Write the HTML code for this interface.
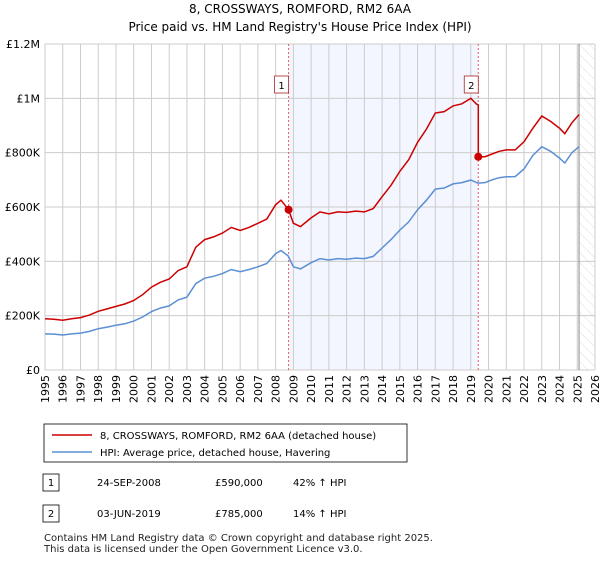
<!DOCTYPE html>
<html><head><meta charset="utf-8"><style>
body{margin:0;background:#fff;font-family:"Liberation Sans","DejaVu Sans",sans-serif;}
svg text{font-family:"DejaVu Sans","Liberation Sans",sans-serif;}
</style></head><body>
<svg id="c" width="600" height="560" xmlns="http://www.w3.org/2000/svg">
<defs><pattern id="hatch" width="7" height="7" patternUnits="userSpaceOnUse" patternTransform="rotate(-45)"><line x1="0" y1="0" x2="0" y2="7" stroke="#d4d4d4" stroke-width="0.8"/></pattern></defs>
<text x="300" y="13" font-size="12" text-anchor="middle">8, CROSSWAYS, ROMFORD, RM2 6AA</text>
<text x="300" y="31" font-size="12" text-anchor="middle">Price paid vs. HM Land Registry's House Price Index (HPI)</text>
<g id="plot"></g>
<rect x="44" y="424" width="363" height="38" fill="#fff" stroke="#000" stroke-width="0.8"/>
<line x1="52" y1="435" x2="92" y2="435" stroke="#cc0000" stroke-width="1.5"/>
<text x="100" y="439" font-size="10">8, CROSSWAYS, ROMFORD, RM2 6AA (detached house)</text>
<line x1="52" y1="452" x2="92" y2="452" stroke="#5b8fd4" stroke-width="1.5"/>
<text x="100" y="456" font-size="10">HPI: Average price, detached house, Havering</text>
<rect x="43" y="474" width="16" height="17" fill="#fff" stroke="#000" stroke-width="0.8"/>
<text x="51" y="486" font-size="10" text-anchor="middle">1</text>
<text x="97" y="486" font-size="10">24-SEP-2008</text>
<text x="215" y="486" font-size="10">£590,000</text>
<text x="293" y="486" font-size="10">42% ↑ HPI</text>
<rect x="43" y="505" width="16" height="17" fill="#fff" stroke="#000" stroke-width="0.8"/>
<text x="51" y="517" font-size="10" text-anchor="middle">2</text>
<text x="97" y="517" font-size="10">03-JUN-2019</text>
<text x="215" y="517" font-size="10">£785,000</text>
<text x="293" y="517" font-size="10">14% ↑ HPI</text>
<text x="44" y="541" font-size="10" fill="#222">Contains HM Land Registry data © Crown copyright and database right 2025.</text>
<text x="44" y="552" font-size="10" fill="#222">This data is licensed under the Open Government Licence v3.0.</text>
</svg>
<script>
const hpiYears=[1995.0,1995.5,1996.0,1996.5,1997.0,1997.5,1998.0,1998.5,1999.0,1999.5,2000.0,2000.5,2001.0,2001.5,2002.0,2002.5,2003.0,2003.5,2004.0,2004.5,2005.0,2005.5,2006.0,2006.5,2007.0,2007.5,2008.0,2008.3,2008.7,2009.0,2009.4,2010.0,2010.5,2011.0,2011.5,2012.0,2012.5,2013.0,2013.5,2014.0,2014.5,2015.0,2015.5,2016.0,2016.5,2017.0,2017.5,2018.0,2018.5,2019.0,2019.4,2019.8,2020.2,2020.6,2021.0,2021.5,2022.0,2022.5,2023.0,2023.5,2024.0,2024.3,2024.7,2025.1];
const hpiValues=[133,132,129,133,136,142,152,158,165,170,180,195,215,228,236,258,268,318,338,345,355,370,362,370,380,392,428,440,420,380,372,395,410,405,410,408,412,410,418,449,480,515,545,590,625,666,670,685,690,699,688,690,700,708,711,712,740,790,822,805,780,762,800,822];
const redYears=[1995.0,1995.5,1996.0,1996.5,1997.0,1997.5,1998.0,1998.5,1999.0,1999.5,2000.0,2000.5,2001.0,2001.5,2002.0,2002.5,2003.0,2003.5,2004.0,2004.5,2005.0,2005.5,2006.0,2006.5,2007.0,2007.5,2008.0,2008.3,2008.73,2009.0,2009.4,2010.0,2010.5,2011.0,2011.5,2012.0,2012.5,2013.0,2013.5,2014.0,2014.5,2015.0,2015.5,2016.0,2016.5,2017.0,2017.5,2018.0,2018.5,2019.0,2019.3,2019.42,2019.42,2019.8,2020.2,2020.6,2021.0,2021.5,2022.0,2022.5,2023.0,2023.5,2024.0,2024.3,2024.7,2025.1];
const redValues=[189,187,183,189,193,202,216,225,234,243,256,277,305,323,335,366,380,452,480,490,504,525,514,525,540,556,608,625,590,540,528,560,582,575,582,580,585,582,594,638,680,731,774,838,887,946,951,972,980,1000,980,975,785,785,795,805,810,810,840,890,935,915,890,870,910,940];
const yTicks=[0,200,400,600,800,1000,1200];
const yLabels=["£0","£200K","£400K","£600K","£800K","£1M","£1.2M"];
const xTicks=[1995,1996,1997,1998,1999,2000,2001,2002,2003,2004,2005,2006,2007,2008,2009,2010,2011,2012,2013,2014,2015,2016,2017,2018,2019,2020,2021,2022,2023,2024,2025,2026];
const sales=[{t:2008.73,v:590,n:"1"},{t:2019.42,v:785,n:"2"}];
const X0=45,X1=595,Y0=370,Y1=44;
const sx=t=>X0+(t-1995)/(2026-1995)*(X1-X0);
const sy=v=>Y0-v/1200*(Y0-Y1);
const NS="http://www.w3.org/2000/svg";
const g=document.getElementById('plot');
function mk(tag,at,parent){const e=document.createElementNS(NS,tag);for(const k in at)e.setAttribute(k,at[k]);(parent||g).appendChild(e);return e;}
let r=mk('rect',{x:sx(2008.73),y:Y1,width:sx(2019.42)-sx(2008.73),height:Y0-Y1,fill:'#f3f6fe'});


let h=mk('rect',{x:sx(2025.1),y:Y1,width:X1-sx(2025.1),height:Y0-Y1,fill:'url(#hatch)'});


xTicks.forEach(t=>{const l=mk('line',{x1:sx(t),x2:sx(t),y1:Y1,y2:Y0,stroke:'#ccc','stroke-width':1});


const tx=mk('text',{x:0,y:0,'font-size':11,transform:`translate(${sx(t)+4},${Y0+33}) rotate(-90)`});tx.textContent=t;

});
yTicks.forEach((v,i)=>{const l=mk('line',{x1:X0,x2:X1,y1:sy(v),y2:sy(v),stroke:'#ccc','stroke-width':1});


const tx=mk('text',{x:X0-5,y:sy(v)+4,'font-size':11,'text-anchor':'end'});tx.textContent=yLabels[i];

});
let nl=mk('line',{x1:sx(2025.1),x2:sx(2025.1),y1:Y1,y2:Y0,stroke:'#888','stroke-width':1});


sales.forEach(s=>{const l=mk('line',{x1:sx(s.t),x2:sx(s.t),y1:Y1,y2:Y0,stroke:'#e06060','stroke-width':1,'stroke-dasharray':'2,2'});

});
const hp=mk('path',{d:hpiYears.map((t,i)=>(i?'L':'M')+sx(t).toFixed(1)+','+sy(hpiValues[i]).toFixed(1)).join(''),fill:'none',stroke:'#5b8fd4','stroke-width':1.5});


const rp=mk('path',{d:redYears.map((t,i)=>(i?'L':'M')+sx(t).toFixed(1)+','+sy(redValues[i]).toFixed(1)).join(''),fill:'none',stroke:'#cc0000','stroke-width':1.5});


sales.forEach(s=>{const c=mk('circle',{cx:sx(s.t),cy:sy(s.v),r:4,fill:'#cc0000'});


const b=mk('rect',{x:sx(s.t)-14,y:76,width:14,height:17,fill:'#fff',stroke:'#aa2222','stroke-width':0.8});


const tx=mk('text',{x:sx(s.t)-7,y:89,'font-size':10,'text-anchor':'middle'});tx.textContent=s.n;

});
</script>
</body></html>
